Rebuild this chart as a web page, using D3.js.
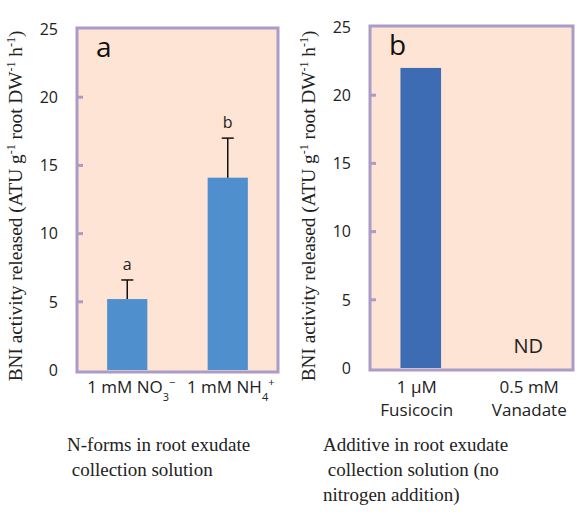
<!DOCTYPE html>
<html>
<head>
<meta charset="utf-8">
<script src="https://cdn.jsdelivr.net/npm/d3@7"></script>
<style>
  body { margin: 0; background: #fff; }
  .tick-label { font-family: "Open Sans", sans-serif; font-size: 17px; fill: #222; }
  .serif { font-family: "Liberation Serif", "DejaVu Serif", serif; fill: #222; }
</style>
</head>
<body>
<div id="chart"></div>
<script>
// Data
var yTicks = [0, 5, 10, 15, 20, 25];

var nformCats = ["NO3", "NH4"];
var nformValues = [5.2, 14.1];
var nformErrors = [6.6, 17.0];
var nformLetters = ["a", "b"];

var additiveCats = ["Fusicocin", "Vanadate"];
var additiveValues = [22.0, null]; // vanadate: not detected
var additiveLines = [["1 \u00b5M", "Fusicocin"], ["0.5 mM", "Vanadate"]];

var svgWidth = 578;
var svgHeight = 512;

var svg = d3.select("#chart")
  .append("svg")
  .attr("width", svgWidth)
  .attr("height", svgHeight);

var frameColor = "#aa9cc7";
var panelFill = "#fde4d4";

// draws one panel frame + y axis, returns scales
function drawPanel(left, right, top, bottom, cats, letter) {
  var g = svg.append("g");

  var y = d3.scaleLinear()
    .domain([0, 25])
    .range([bottom - 2, top + 1]);

  var x = d3.scaleBand()
    .domain(cats)
    .range([left, right])
    .paddingInner(0.6)
    .paddingOuter(0.3);

  g.append("rect")
    .attr("x", left)
    .attr("y", top)
    .attr("width", right - left)
    .attr("height", bottom - top)
    .attr("fill", panelFill)
    .attr("stroke", frameColor)
    .attr("stroke-width", 3);

  // inner tick stubs
  g.selectAll(".stub")
    .data(yTicks.slice(1, -1))
    .enter()
    .append("line")
    .attr("x1", left)
    .attr("x2", left + 6)
    .attr("y1", d => y(d))
    .attr("y2", d => y(d))
    .attr("stroke", frameColor)
    .attr("stroke-width", 3);

  g.selectAll(".ylab")
    .data(yTicks)
    .enter()
    .append("text")
    .attr("class", "tick-label")
    .attr("x", left - 19)
    .attr("y", d => y(d))
    .attr("dy", "0.36em")
    .attr("text-anchor", "end")
    .style("font-size", "16px")
    .text(d => d);

  // y axis title
  var title = g.append("text")
    .attr("class", "serif")
    .attr("transform", `translate(${left - 55}, 206) rotate(-90)`)
    .attr("text-anchor", "middle")
    .style("font-size", "19.3px");
  title.append("tspan").text("BNI activity released (ATU g");
  title.append("tspan").attr("baseline-shift", "super").style("font-size", "12px").text("-1");
  title.append("tspan").text(" root DW");
  title.append("tspan").attr("baseline-shift", "super").style("font-size", "12px").text("-1");
  title.append("tspan").text(" h");
  title.append("tspan").attr("baseline-shift", "super").style("font-size", "12px").text("-1");
  title.append("tspan").text(")");

  g.append("text")
    .attr("x", left + 19)
    .attr("y", top + 29)
    .attr("font-family", "Open Sans, sans-serif")
    .attr("font-size", "28px")
    .attr("fill", "#111")
    .text(letter);

  return { g: g, x: x, y: y };
}

// Panel a
var pa = drawPanel(77, 278, 28, 372, nformCats, "a");

pa.g.selectAll(".bar")
  .data(nformValues)
  .enter()
  .append("rect")
  .attr("x", (d, i) => pa.x(nformCats[i]))
  .attr("width", pa.x.bandwidth())
  .attr("y", d => pa.y(d))
  .attr("height", d => pa.y(0) - pa.y(d))
  .attr("fill", "#4f8fcd");

nformValues.forEach(function(v, i) {
  var cx = pa.x(nformCats[i]) + pa.x.bandwidth() / 2;
  pa.g.append("line")
    .attr("x1", cx).attr("x2", cx)
    .attr("y1", pa.y(v)).attr("y2", pa.y(nformErrors[i]))
    .attr("stroke", "#111").attr("stroke-width", 1.5);
  pa.g.append("line")
    .attr("x1", cx - 6).attr("x2", cx + 6)
    .attr("y1", pa.y(nformErrors[i])).attr("y2", pa.y(nformErrors[i]))
    .attr("stroke", "#111").attr("stroke-width", 1.5);
  pa.g.append("text")
    .attr("class", "tick-label")
    .attr("x", cx)
    .attr("y", pa.y(nformErrors[i]) - 10)
    .attr("text-anchor", "middle")
    .style("font-size", "16px")
    .text(nformLetters[i]);
});

// x labels with sub/superscripts
var xl0 = pa.g.append("text").attr("class", "tick-label")
  .attr("x", pa.x("NO3") + pa.x.bandwidth() / 2 + 4).attr("y", 393).attr("text-anchor", "middle");
xl0.append("tspan").text("1 mM NO");
xl0.append("tspan").attr("baseline-shift", "sub").style("font-size", "11px").text("3");
xl0.append("tspan").attr("baseline-shift", "super").style("font-size", "11px").text("\u2212");

var xl1 = pa.g.append("text").attr("class", "tick-label")
  .attr("x", pa.x("NH4") + pa.x.bandwidth() / 2 + 3).attr("y", 393).attr("text-anchor", "middle");
xl1.append("tspan").text("1 mM NH");
xl1.append("tspan").attr("baseline-shift", "sub").style("font-size", "11px").text("4");
xl1.append("tspan").attr("baseline-shift", "super").style("font-size", "11px").text("+");

// Panel b
var pb = drawPanel(370, 573, 26, 370, additiveCats, "b");

pb.g.selectAll(".bar")
  .data(additiveValues.filter(d => d !== null))
  .enter()
  .append("rect")
  .attr("x", (d, i) => pb.x(additiveCats[i]))
  .attr("width", pb.x.bandwidth())
  .attr("y", d => pb.y(d))
  .attr("height", d => pb.y(0) - pb.y(d))
  .attr("fill", "#3d6bb4");

pb.g.append("text")
  .attr("class", "tick-label")
  .attr("x", pb.x("Vanadate") + pb.x.bandwidth() / 2 + 6)
  .attr("y", pb.y(1.1))
  .attr("text-anchor", "middle")
  .style("font-size", "20px")
  .text("ND");

additiveLines.forEach(function(lines, i) {
  var cx = pb.x(additiveCats[i]) + pb.x.bandwidth() / 2 + (i === 0 ? -4 : 7);
  lines.forEach(function(t, j) {
    pb.g.append("text")
      .attr("class", "tick-label")
      .attr("x", cx)
      .attr("y", 393 + j * 23)
      .attr("text-anchor", "middle")
      .text(t);
  });
});

// captions
var capA = ["N-forms in root exudate", " collection solution"];
var capB = ["Additive in root exudate", " collection solution (no", "nitrogen addition)"];

capA.forEach(function(t, i) {
  svg.append("text").attr("class", "serif")
    .attr("x", 67).attr("y", 451 + i * 25)
    .style("white-space", "pre")
    .style("font-size", "19px")
    .text(t);
});
capB.forEach(function(t, i) {
  svg.append("text").attr("class", "serif")
    .attr("x", 323).attr("y", 451 + i * 25)
    .style("white-space", "pre")
    .style("font-size", "19px")
    .text(t);
});
</script>
</body>
</html>
